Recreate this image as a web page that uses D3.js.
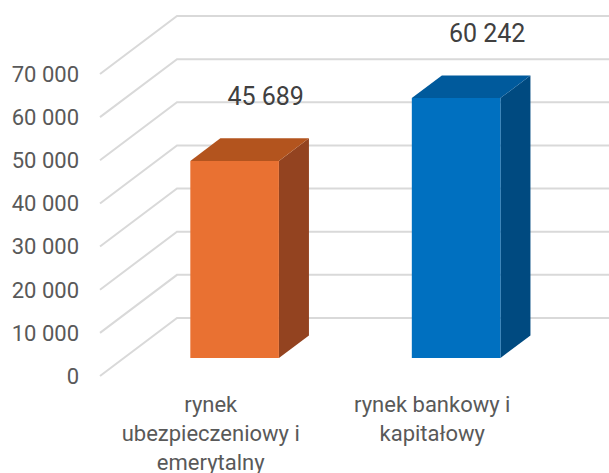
<!DOCTYPE html>
<html>
<head>
<meta charset="utf-8">
<script src="https://cdn.jsdelivr.net/npm/d3@7"></script>
<style>
  html, body { margin: 0; padding: 0; background: #ffffff; }
  svg { display: block; font-family: Roboto, "Open Sans", sans-serif; }
</style>
</head>
<body>
<svg id="chart" width="609" height="473"></svg>
<script>
// Chart data
const categories = ["rynek ubezpieczeniowy i emerytalny", "rynek bankowy i kapitałowy"];
const values = [45689, 60242];
const tickValues = [0, 10000, 20000, 30000, 40000, 50000, 60000, 70000];
const frontColors = ["#E97132", "#0070C0"];
const topColors = ["#B3541E", "#005A9C"];
const sideColors = ["#934320", "#004A80"];

const W = 609, H = 473;
const svg = d3.select("#chart");

// Oblique projection: depth 0 = front plane, depth 1 = back wall
const depthX = 77, depthY = -58;
const plotLeft = 100, plotWidth = 443;

const y = d3.scaleLinear().domain([0, 70000]).range([376, 74]);
const x = d3.scaleBand().domain(categories).range([plotLeft, plotLeft + plotWidth])
  .paddingInner(0.6).paddingOuter(0.3);

const proj = (px, v, f) => [px + depthX * f, y(v) + depthY * f];

const fmt = v => d3.format(",")(v).replace(/,/g, " ");

// Gridlines: diagonal on the side wall, horizontal on the back wall
const grid = svg.append("g").attr("fill", "none").attr("stroke", "#D9D9D9").attr("stroke-width", 2);
tickValues.forEach(t => {
  const a = proj(plotLeft, t, 0);
  const b = proj(plotLeft, t, 1);
  const c = proj(plotLeft + plotWidth, t, 1);
  grid.append("path").attr("d", `M${a[0]},${a[1]}L${b[0]},${b[1]}L${c[0]},${c[1]}`);
});

// Value axis labels
svg.append("g").selectAll("text").data(tickValues).join("text")
  .attr("x", 79).attr("y", d => y(d)).attr("dy", "0.36em")
  .attr("text-anchor", "end").attr("font-size", 22).attr("fill", "#595959")
  .text(fmt);

// 3D bars
const f1 = 0.31, f2 = 0.70;
const bars = svg.append("g");
categories.forEach((c, i) => {
  const x0 = x(c), x1 = x(c) + x.bandwidth(), v = values[i];
  const p = (px, val, f) => proj(px, val, f).join(",");
  const g = bars.append("g");
  // side face
  g.append("path").attr("fill", sideColors[i])
    .attr("d", `M${p(x1, 0, f1)}L${p(x1, 0, f2)}L${p(x1, v, f2)}L${p(x1, v, f1)}Z`);
  // top face
  g.append("path").attr("fill", topColors[i])
    .attr("d", `M${p(x0, v, f1)}L${p(x1, v, f1)}L${p(x1, v, f2)}L${p(x0, v, f2)}Z`);
  // front face
  g.append("path").attr("fill", frontColors[i])
    .attr("d", `M${p(x0, 0, f1)}L${p(x1, 0, f1)}L${p(x1, v, f1)}L${p(x0, v, f1)}Z`);

  // value label above the bar
  const lp = proj(x0 + x.bandwidth() / 2, v, f2);
  svg.append("text").attr("x", lp[0] + 1).attr("y", lp[1] - 33)
    .attr("text-anchor", "middle").attr("font-size", 25).attr("fill", "#404040")
    .text(fmt(v));
});

// Category labels, wrapped to the band width
const catG = svg.append("g").attr("font-size", 22).attr("fill", "#595959").attr("text-anchor", "middle");
categories.forEach(c => {
  const cx = x(c) + x.bandwidth() / 2;
  const t = catG.append("text").attr("x", cx).attr("y", 412);
  const words = c.split(" ");
  let lines = [], line = [];
  const probe = catG.append("text").attr("visibility", "hidden");
  words.forEach(w => {
    const test = line.concat(w).join(" ");
    probe.text(test);
    if (line.length && probe.node().getComputedTextLength() > 200) {
      lines.push(line.join(" "));
      line = [w];
    } else line.push(w);
  });
  lines.push(line.join(" "));
  probe.remove();
  lines.forEach((l, k) => {
    t.append("tspan").attr("x", cx).attr("y", 412 + k * 29).text(l);
  });
});
</script>
</body>
</html>
